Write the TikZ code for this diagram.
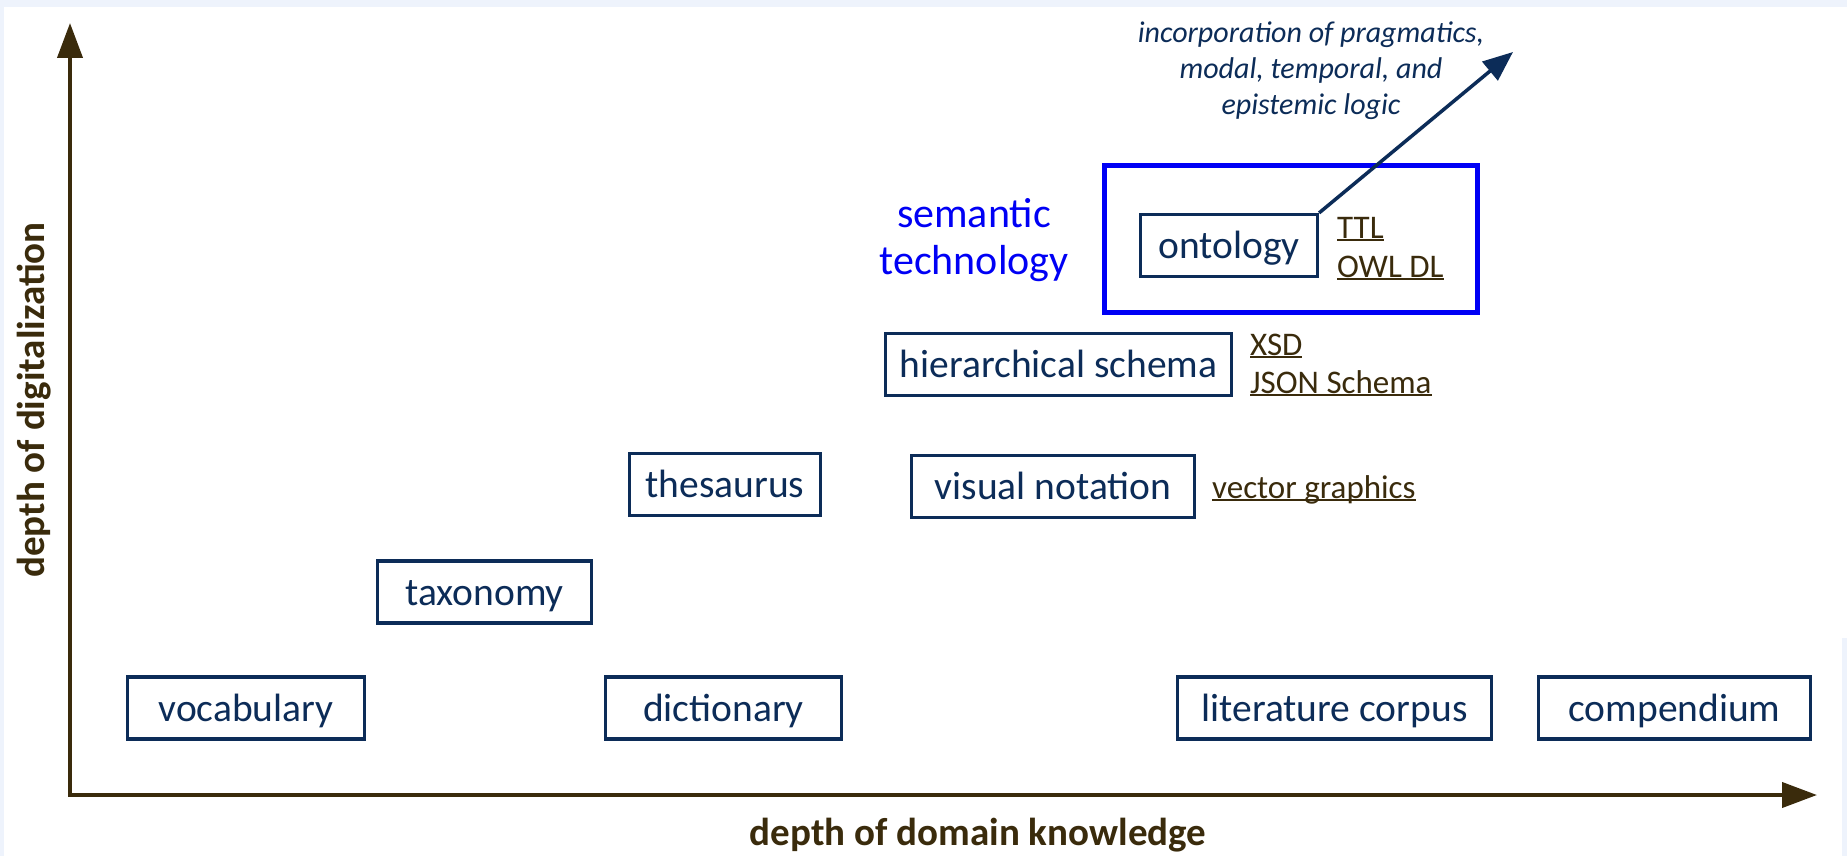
\documentclass[tikz,border=0pt]{standalone}
\usepackage{fontspec}
\setmainfont{Carlito}
\usetikzlibrary{arrows.meta}
\definecolor{navy}{HTML}{0C2C58}
\definecolor{axisbrown}{HTML}{3A2B0C}
\definecolor{bgblue}{HTML}{EEF3FC}
\definecolor{semblue}{HTML}{0000F5}
\newcommand\lnkul[1]{\setbox0\hbox{#1}\rlap{\rule[-0.1em]{\wd0}{0.055em}}\box0}
\begin{document}
\begin{tikzpicture}[x=1pt,y=-1pt,
  conceptbox/.style={draw=navy, line width=3.2pt, text=navy,
    font=\fontsize{39.5}{47}\selectfont, minimum height=62pt, inner sep=0pt,
    text height=33pt, text depth=7pt},
  lnk/.style={text=axisbrown, font=\fontsize{33}{39}\selectfont, anchor=base west, inner sep=0pt},
  axislabel/.style={text=axisbrown, font=\fontsize{39}{46}\selectfont\bfseries, inner sep=0pt, anchor=base},
  semlabel/.style={text=semblue, font=\fontsize{42}{47}\selectfont, inner sep=0pt, anchor=base},
  notelabel/.style={text=navy, font=\fontsize{30}{36}\selectfont\itshape, inner sep=0pt, anchor=base},
  axisline/.style={draw=axisbrown, line width=4pt,
    {Triangle[length=35pt,width=25pt]}-{Triangle[length=35pt,width=25pt]}}
]
% background
\fill[bgblue] (0,0) rectangle (1847,856);
\fill[white] (4,7) rectangle (1847,856);
\fill[bgblue] (1842,638) rectangle (1847,856);
\useasboundingbox (0,0) rectangle (1847,856);

% axes
\coordinate (origin) at (70,795);
\coordinate (ytip) at (70,23);
\coordinate (xtip) at (1817,795);
\draw[axisline] (ytip) -- (origin) -- (xtip);
\node[axislabel] (xlabel) at (978,845) {depth of domain knowledge};
\node[axislabel, rotate=90] (ylabel) at (44,400) {depth of digitalization};

% semantic technology frame
\node[draw=semblue, line width=5pt, minimum width=373pt, minimum height=147pt, inner sep=0pt] (semframe) at (1291,239) {};
\node[semlabel] (sem1) at (974,227) {semantic};
\node[semlabel] (sem2) at (974,274) {technology};

% concept boxes
\node[conceptbox, minimum width=237pt] (vocab) at (246,708) {vocabulary};
\node[conceptbox, minimum width=236pt] (dict) at (723.5,708) {dictionary};
\node[conceptbox, minimum width=314pt] (litcorp) at (1334.5,708) {literature corpus};
\node[conceptbox, minimum width=272pt] (comp) at (1674.5,708) {compendium};
\node[conceptbox, minimum width=214pt] (taxo) at (484.5,592) {taxonomy};
\node[conceptbox, minimum width=191pt] (thes) at (725,484.5) {thesaurus};
\node[conceptbox, minimum width=283pt] (visnot) at (1053,486.5) {visual notation};
\node[conceptbox, minimum width=346pt] (hier) at (1058.5,364.5) {hierarchical schema};
\node[conceptbox, minimum width=177pt] (onto) at (1229,245.5) {ontology};

% format links
\node[lnk] (ttl) at (1337,238) {\lnkul{TTL}};
\node[lnk] (owl) at (1337,277) {\lnkul{OWL DL}};
\node[lnk] (xsd) at (1250,355) {\lnkul{XSD}};
\node[lnk] (json) at (1250,393) {\lnkul{JSON Schema}};
\node[lnk] (vec) at (1212,498) {\lnkul{vector graphics}};

% outlook arrow
\coordinate (outlook) at (1513,52);
\draw[navy, line width=3.5pt, -{Triangle[length=30pt,width=24pt]}] (onto.north east) -- (outlook);
\node[notelabel] (note1) at (1311,43) {incorporation of pragmatics,};
\node[notelabel] (note2) at (1311,79) {modal, temporal, and};
\node[notelabel] (note3) at (1311,115) {epistemic logic};
\end{tikzpicture}
\end{document}
